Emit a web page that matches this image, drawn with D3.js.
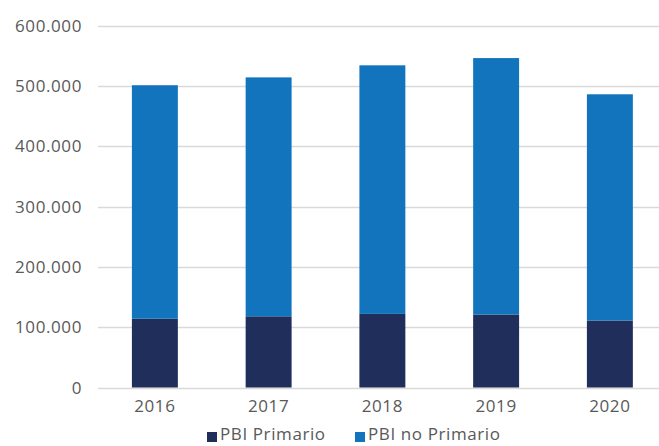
<!DOCTYPE html>
<html>
<head>
<meta charset="utf-8">
<script src="https://cdn.jsdelivr.net/npm/d3@7"></script>
<style>
  html, body { margin: 0; padding: 0; background: #fff; }
  svg text { font-family: "Open Sans", "Noto Sans", sans-serif; fill: #595959; letter-spacing: 0.6px; }
</style>
</head>
<body>
<div id="chart"></div>
<script>
// datos (miles)
const years = ['2016', '2017', '2018', '2019', '2020'];
const pbiPrimario = [114000, 118000, 122000, 121000, 111000];
const pbiNoPrimario = [387000, 396000, 412000, 425000, 375000];
const yTicks = [0, 100000, 200000, 300000, 400000, 500000, 600000];
const seriesNames = ['PBI Primario', 'PBI no Primario'];
const seriesColors = ['#1F2E5B', '#1174BC'];

const width = 659, height = 446;
const plot = { left: 98, top: 25.5, bottom: 387.5 };

const svg = d3.select('#chart').append('svg')
  .attr('width', width)
  .attr('height', height);

const x = d3.scaleBand()
  .domain(years)
  .range([plot.left, plot.left + 5 * 113.75])
  .paddingInner(0.596)
  .paddingOuter(0.298);

const y = d3.scaleLinear()
  .domain([0, 600000])
  .range([plot.bottom, plot.top]);

const fmt = v => d3.format(',')(v).replace(/,/g, '.');

// lineas de grilla
svg.append('g')
  .selectAll('line')
  .data(yTicks)
  .enter()
  .append('line')
  .attr('x1', plot.left)
  .attr('x2', width)
  .attr('y1', d => Math.round(y(d)) + 0.5)
  .attr('y2', d => Math.round(y(d)) + 0.5)
  .style('stroke', '#D9D9D9')
  .style('stroke-width', '1.3px');

// etiquetas eje Y
svg.append('g')
  .selectAll('text')
  .data(yTicks)
  .enter()
  .append('text')
  .attr('x', 82)
  .attr('y', d => y(d))
  .attr('dy', '0.36em')
  .attr('text-anchor', 'end')
  .style('font-size', '17px')
  .text(d => fmt(d));

// barras apiladas
const rows = years.map((yr, i) => ({ year: yr, PBIPrimario: pbiPrimario[i], PBINoPrimario: pbiNoPrimario[i] }));
const stack = d3.stack().keys(['PBIPrimario', 'PBINoPrimario'])(rows);

svg.append('g')
  .selectAll('g')
  .data(stack)
  .enter()
  .append('g')
  .style('fill', (d, i) => seriesColors[i])
  .selectAll('rect')
  .data(d => d)
  .enter()
  .append('rect')
  .attr('x', d => x(d.data.year))
  .attr('width', x.bandwidth())
  .attr('y', d => y(d[1]))
  .attr('height', d => y(d[0]) - y(d[1]));

// etiquetas eje X
svg.append('g')
  .selectAll('text')
  .data(years)
  .enter()
  .append('text')
  .attr('x', d => x(d) + x.bandwidth() / 2)
  .attr('y', 412)
  .attr('text-anchor', 'middle')
  .style('font-size', '17px')
  .text(d => d);

// leyenda
const legend = svg.append('g');
const legendX = [207, 355];
seriesNames.forEach((name, i) => {
  legend.append('rect')
    .attr('x', legendX[i])
    .attr('y', 432)
    .attr('width', 10)
    .attr('height', 10)
    .style('fill', seriesColors[i]);
  legend.append('text')
    .attr('x', legendX[i] + 13)
    .attr('y', 440)
    .style('font-size', '17px')
    .text(name);
});
</script>
</body>
</html>
